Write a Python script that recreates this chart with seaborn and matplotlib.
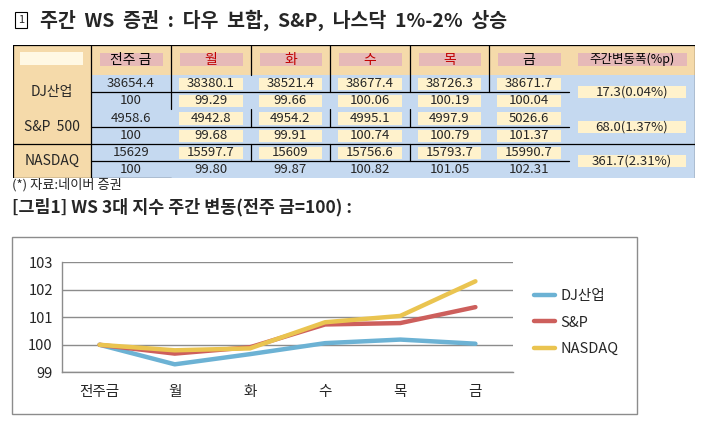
import numpy as np
import pandas as pd
import seaborn as sns
import matplotlib.pyplot as plt
from matplotlib.patches import Rectangle

# data
days = ["전주금", "월", "화", "수", "목", "금"]
head = ["전주 금", "월", "화", "수", "목", "금", "주간변동폭(%p)"]
row_names = ["DJ산업", "S&P  500", "NASDAQ"]
series = ["DJ산업", "S&P", "NASDAQ"]

dj_close = [38654.4, 38380.1, 38521.4, 38677.4, 38726.3, 38671.7]
dj_idx = [100, 99.29, 99.66, 100.06, 100.19, 100.04]
sp_close = [4958.6, 4942.8, 4954.2, 4995.1, 4997.9, 5026.6]
sp_idx = [100, 99.68, 99.91, 100.74, 100.79, 101.37]
nq_close = [15629, 15597.7, 15609, 15756.6, 15793.7, 15990.7]
nq_idx = [100, 99.80, 99.87, 100.82, 101.05, 102.31]
changes = ["17.3(0.04%)", "68.0(1.37%)", "361.7(2.31%)"]

colors = ["#6CB2D4", "#CD5F5C", "#EAC450"]

W, H = 710, 426
sns.set_style("white")
plt.rcParams["font.family"] = ["Noto Sans CJK KR", "DejaVu Sans"]

fig = plt.figure(figsize=(7.1, 4.26), dpi=100)


def fx(px):
    return px / W


def fy(py):
    return 1 - py / H


# heading
fig.text(fx(21), fy(20), "1", fontsize=8, ha="center", va="center",
         bbox=dict(boxstyle="square,pad=0.3", fc="none", ec="black", lw=0.8))
fig.text(fx(40), fy(20), "주간  WS  증권  :  다우  보합,  S&P,  나스닥  1%-2%  상승",
         fontsize=14, fontweight="bold", va="center")

# table
tan = "#F5DAAA"
blue = "#C5D9F0"
pink = "#E6B9B8"
cream = "#FFF2CC"
tw = "medium"

col_w = [78, 80, 80, 79, 80, 79, 80, 126]
row_h = [30, 17, 17, 18, 17, 17, 17]
xe = np.concatenate([[0], np.cumsum(col_w)])
ye = np.concatenate([[0], np.cumsum(row_h)])

ax_t = fig.add_axes([fx(13), fy(45 + ye[-1]), xe[-1] / W, ye[-1] / H])
ax_t.set_xlim(0, xe[-1])
ax_t.set_ylim(ye[-1], 0)
ax_t.axis("off")

ax_t.add_patch(Rectangle((0, 0), xe[-1], ye[1], fc=tan, ec="none"))
ax_t.add_patch(Rectangle((0, 0), xe[1], ye[-1], fc=tan, ec="none"))
ax_t.add_patch(Rectangle((xe[1], ye[1]), xe[-1] - xe[1], ye[-1] - ye[1], fc=blue, ec="none"))

# header
ax_t.add_patch(Rectangle((7, 7), xe[1] - 15, 13, fc="#FFF8E4", ec="none"))
for j, h in enumerate(head):
    x0, x1 = xe[j + 1], xe[j + 2]
    ax_t.add_patch(Rectangle((x0 + 9, 7.5), x1 - x0 - 17, 13.5, fc=pink, ec="none"))
    c = "#C00000" if 1 <= j <= 4 else "black"
    ax_t.text((x0 + x1) / 2, 14.5, h, ha="center", va="center",
              fontsize=9 if j == 6 else 10, color=c, fontweight=tw)

# body
groups = [(dj_close, dj_idx), (sp_close, sp_idx), (nq_close, nq_idx)]
for g, (close, idx) in enumerate(groups):
    r1, r2 = 1 + 2 * g, 2 + 2 * g
    ax_t.text(xe[1] / 2, ye[r2], row_names[g], ha="center", va="center",
              fontsize=10, fontweight=tw)
    for j in range(6):
        x0, x1 = xe[j + 1], xe[j + 2]
        cx = (x0 + x1) / 2
        s1 = f"{close[j]:g}"
        s2 = "100" if j == 0 else f"{idx[j]:.2f}"
        for r, s in ((r1, s1), (r2, s2)):
            if j >= 1 and not (g == 2 and r == r2):
                ax_t.add_patch(Rectangle((x0 + 8, ye[r] + 2.5), x1 - x0 - 16, row_h[r] - 5,
                                         fc=cream, ec="none"))
            ax_t.text(cx, (ye[r] + ye[r + 1]) / 2, s, ha="center", va="center",
                      fontsize=9.5, fontweight=tw)
    x0, x1 = xe[7], xe[8]
    ax_t.add_patch(Rectangle((x0 + 9, ye[r2] - 6), x1 - x0 - 18, 12, fc=cream, ec="none"))
    ax_t.text((x0 + x1) / 2, ye[r2], changes[g], ha="center", va="center",
              fontsize=9.5, fontweight=tw)

# table rules
lw = 0.9
vsegs = [(1, 0, 7), (2, 0, 3), (3, 0, 1), (3, 3, 4), (3, 5, 6),
         (4, 0, 2), (4, 3, 4), (4, 5, 6), (5, 0, 2), (5, 3, 4), (5, 5, 6), (6, 0, 2)]
for c, a, b in vsegs:
    ax_t.plot([xe[c], xe[c]], [ye[a], ye[b]], color="black", lw=lw)
for r in (2, 4, 6):
    ax_t.plot([xe[1], xe[7]], [ye[r], ye[r]], color="black", lw=lw)
ax_t.plot([0, xe[-1]], [ye[5], ye[5]], color="black", lw=lw)
ax_t.plot([0, xe[-1]], [0, 0], color="black", lw=lw)
ax_t.plot([0, 0], [0, ye[-1]], color="black", lw=lw)
ax_t.plot([xe[-1], xe[-1]], [0, ye[-1]], color="black", lw=lw)
ax_t.plot([0, xe[2]], [ye[-1], ye[-1]], color="black", lw=lw)

# notes
fig.text(fx(12), fy(185), "(*) 자료:네이버 증권", fontsize=9.5, va="center")
fig.text(fx(12), fy(207), "[그림1] WS 3대 지수 주간 변동(전주 금=100) :",
         fontsize=12.5, fontweight="bold", va="center")

# chart frame
fig.add_artist(Rectangle((fx(12), fy(414)), fx(637) - fx(12), (414 - 236.5) / H,
                         transform=fig.transFigure, fill=False, ec="#8C8C8C", lw=1))

# line chart
df = pd.DataFrame({
    "day": days * 3,
    "value": dj_idx + sp_idx + nq_idx,
    "series": np.repeat(series, len(days)),
})

ax = fig.add_axes([fx(62), fy(372.3), fx(513) - fx(62), (372.3 - 262.3) / H])
sns.lineplot(data=df, x="day", y="value", hue="series", palette=colors,
             linewidth=3.2, sort=False, ax=ax)
ax.set_xlim(-0.5, 5.5)
ax.set_ylim(99, 103)
ax.set_yticks(range(99, 104))
ax.grid(axis="y", color="#8C8C8C", lw=1)
ax.grid(axis="x", visible=False)
ax.set_axisbelow(True)
for s in ("top", "right"):
    ax.spines[s].set_visible(False)
for s in ("left", "bottom"):
    ax.spines[s].set_color("#8C8C8C")
    ax.spines[s].set_linewidth(1)
ax.tick_params(axis="y", length=3.6, color="#8C8C8C", pad=3, labelsize=10.5)
ax.tick_params(axis="x", length=0, pad=9, labelsize=10.5)
ax.set_xlabel("")
ax.set_ylabel("")
ax.legend(loc="upper left", bbox_to_anchor=(fx(521), fy(276)), bbox_transform=fig.transFigure,
          frameon=False, fontsize=10.5, handlelength=1.4, handletextpad=0.4, labelspacing=0.85)

fig.savefig("out.png", dpi=100)
